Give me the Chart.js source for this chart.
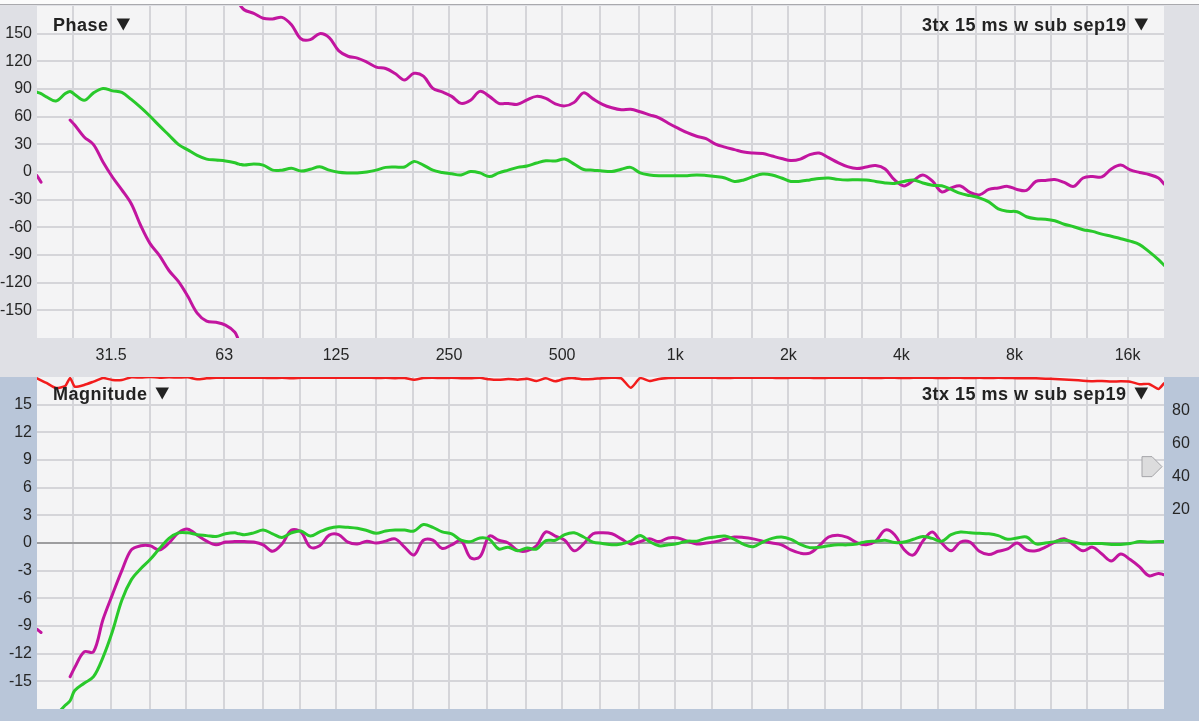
<!DOCTYPE html>
<html>
<head>
<meta charset="utf-8">
<script src="https://cdn.jsdelivr.net/npm/chart.js@4.4.1/dist/chart.umd.min.js"></script>
<style>
  html, body { margin: 0; padding: 0; background: #fbfbfb; }
  #wrap { position: relative; width: 1199px; height: 721px; overflow: hidden; }
  canvas { position: absolute; left: 0; }
  #phaseChart { top: 0; }
  #magChart { top: 374px; }
</style>
</head>
<body>
<div id="wrap">
  <canvas id="phaseChart" width="1199" height="374"></canvas>
  <canvas id="magChart" width="1199" height="347"></canvas>
</div>
<script>
// frequency points (Hz), 1/12 octave plus a few extra points at trace breaks
const freqHz = [
  20, 20.5, 21.19, 22.45, 23.78, 24.5,
  25.2, 26.7, 28.28, 29.97, 31.75, 33.64, 35.64, 37.76, 40, 42.38, 44.9, 47.57,
  50.4, 53.39, 56.57, 59.93, 63.5, 67.27, 68.7, 68.9, 69.1,
  71.27, 75.51, 80, 84.76, 89.8, 95.14, 100.8, 106.8, 113.1, 119.9, 127, 134.5,
  142.5, 151, 160, 169.5, 179.6, 190.3, 201.6, 213.6, 226.3, 239.7, 254, 269.1,
  285.1, 302, 320, 339, 359.2, 380.6, 403.2, 427.2, 452.5, 479.5, 508, 538.2,
  570.2, 604.1, 640, 678.1, 718.4, 761.1, 806.3, 854.3, 905.1, 958.9, 1016, 1076,
  1140, 1208, 1280, 1356, 1437, 1522, 1613, 1709, 1810, 1918, 2032, 2153,
  2281, 2416, 2560, 2712, 2874, 3044, 3225, 3417, 3620, 3836, 4064, 4305,
  4561, 4833, 5120, 5424, 5747, 6089, 6451, 6834, 7241, 7671, 8127, 8611,
  9123, 9665, 10240, 10849, 11494, 12177, 12902, 13669, 14482, 15343, 16255, 17222,
  18246, 19331, 20000
];

// phase (deg)
const phaseGreen = [
  86.6, 85, 81.4, 77, 85, 87.4,
  84, 77.7, 85.8, 90.6, 88, 86.3, 78.7, 70, 60.4, 50, 40, 30,
  24, 18, 14, 13, 12, 10, 8.6, 8.6, 8.5,
  7.5, 8.6, 7.5, 2, 2, 4, 1, 3, 5.7, 2, -0.3, -1,
  -1, 0, 2, 5, 5.4, 5.4, 11.5, 7.5, 2, -0.5, -2, -3.2,
  0.5, -1, -5, -1, 2, 5, 6.5, 9.7, 12.2, 11.9, 14, 8.6,
  2.7, 2, 1, 0.5, 3, 5, -1, -3.2, -4, -4, -4, -4,
  -3.2, -3.8, -4.9, -6.5, -10.2, -8.6, -4.9, -2.2, -3.2, -6.5, -10.2, -10,
  -8.6, -7, -6.5, -8, -8.6, -8.3, -8.6, -10.2, -11.9, -12.4, -10.2, -8.6,
  -11.9, -14.3, -15, -18.9, -23.2, -25.6, -28, -32.4, -40, -42.6, -43.1, -48.5,
  -50.7, -51.2, -52.9, -56.6, -59.3, -62.6, -64.4, -67.4, -69.6, -72.3, -75, -78.7,
  -86.3, -95, -101
];
const phaseMagenta = [
  -4, -11, null, null, null, 56.4,
  51, 38, 29.7, 10.8, -5.4, -19.4, -34.5, -58, -77.7, -90.6, -106.8, -118.7,
  -134.8, -153, -161.8, -163, -166, -173.7, -182, null, 182,
  175.8, 172, 166.7, 166, 167.7, 159.7, 144.5, 143.5, 150, 145.6, 131.6, 125.5,
  123.5, 119.2, 113.8, 112.2, 106.8, 99.8, 107, 103.9, 90.6, 86.8, 82, 74.4,
  77.7, 87.4, 82, 74.4, 74.4, 73.4, 78.2, 82, 79.8, 73.9, 71.7, 75.5,
  85.8, 79.3, 73.4, 69.6, 67.4, 68, 65.3, 62, 58.8, 52.9, 47.5, 42.6,
  38.8, 36.1, 30.2, 27, 24.3, 21.6, 20.5, 20, 17.3, 14.6, 12.4, 14,
  18.9, 20.5, 15.6, 10.2, 5.9, 3.8, 5.4, 7, 3.2, -8.6, -15.1, -9.2,
  -3.2, -9.7, -21.6, -17.3, -15.1, -22.1, -24.8, -18.9, -17.3, -15.6, -18.9, -20,
  -10.2, -9.2, -8.1, -11.3, -15.6, -6.5, -4.9, -5.4, 3.2, 7.5, 2.2, -0.5,
  -2.7, -6.5, -12.9
];

// magnitude (dB)
const magGreen = [
  null, null, null, -18.7, -17.6, -17.1,
  -16, -15.2, -14.5, -12.4, -9.6, -6.2, -4, -2.8, -1.8, -0.6, 0.5, 1.1,
  1.1, 0.9, 0.8, 0.7, 1, 1.1, 1, 1, 1,
  0.9, 1.1, 1.4, 1, 0.6, 1.1, 1.3, 0.75, 1.2, 1.6, 1.75, 1.7,
  1.6, 1.35, 1.05, 1.3, 1.4, 1.4, 1.3, 2, 1.7, 1.2, 1, 0.3,
  0.15, 0.55, 0.4, -0.65, -0.45, -0.85, -0.55, -0.65, 0.25, 0.3, 0.9, 1.1,
  0.65, 0.1, -0.05, -0.2, -0.1, 0.2, 0.8, 0.15, -0.3, -0.2, -0.05, 0.2,
  0.2, 0.5, 0.65, 0.75, 0.4, -0.15, -0.4, 0.1, 0.5, 0.65, 0.4, -0.15,
  -0.5, -0.45, -0.3, -0.2, -0.2, -0.1, 0.15, 0.2, 0.3, 0.05, 0.1, 0.4,
  0.7, 0.5, 0.2, 0.9, 1.2, 1.1, 1.05, 1, 0.8, 0.4, 0.55, 0.65,
  -0.1, 0, 0.15, 0.3, 0.1, -0.1, -0.05, -0.05, -0.15, -0.15, -0.05, 0.15,
  0.1, 0.15, 0.15
];
const magMagenta = [
  -9.35, -9.7, null, null, null, -14.5,
  -13.5, -11.8, -11.8, -8.3, -5.6, -3, -0.75, -0.3, -0.3, -0.75, 0, 1.1,
  1.5, 0.85, 0.2, -0.2, 0.1, 0.15, 0.15, 0.15, 0.15,
  0.15, 0.1, -0.2, -0.9, -0.1, 1.4, 1.2, -0.45, -0.3, 0.85, 0.9, 0.1,
  -0.1, 0.2, 0, 0.2, 0.45, -0.45, -1.3, 0.3, 0.3, -0.6, -0.2, 0.25,
  -1.6, -1.5, 0.75, 0.3, 0, -0.8, -0.85, -0.3, 1.2, 0.75, 0.3, -0.85,
  -0.1, 1, 1.1, 1, 0.45, -0.1, 0.15, 0.45, 0.15, 0.55, 0.55, 0.2,
  -0.1, 0, 0.15, 0.4, 0.65, 0.6, 0.45, 0.2, 0, -0.2, -0.75, -1.1,
  -1.1, -0.3, 0.65, 0.85, 0.6, 0.05, -0.2, 0.2, 1.4, 0.9, -0.7, -1.3,
  0.2, 1.2, 0, -0.85, 0.1, 0.1, -0.9, -1.25, -0.9, -0.65, 0, -0.75,
  -0.85, -0.45, 0.1, 0.45, -0.2, -0.85, -0.45, -1.2, -1.95, -1.2, -1.8, -2.6,
  -3.55, -3.3, -3.45
];

// red trace on the right-hand axis
const coherenceRed = [
  99.2, 98, 96.4, 93.4, 94.6, 99.4,
  94.2, 95.2, 97.2, 99.4, 98.2, 98.2, 99.8, 99.7, 100, 99.6, 99.8, 99.7,
  99.8, 98.6, 99.2, 99.6, 99.5, 99.6, 99.6, 99.6, 99.6,
  99.6, 99.5, 99.5, 99.4, 99.5, 99.3, 99.5, 99.6, 99.5, 99.6, 99.5, 99.6,
  99.5, 99.6, 99.4, 99.5, 99.3, 99.4, 98.4, 99.4, 99.5, 99.4, 99.5, 99.3,
  99.2, 99.5, 98.6, 98.3, 98.8, 98.4, 99, 97.6, 99.2, 97.4, 99, 99.3,
  98.6, 98.8, 99.3, 99.5, 99.2, 93.5, 99.3, 97.6, 98.8, 99.4, 99.5, 99.5,
  99.5, 99.6, 99.5, 99.4, 99.5, 99.5, 99.6, 99.5, 99.5, 99.4, 99.5, 99.5,
  99.5, 99.4, 99.5, 99.5, 99.6, 99.5, 99.5, 99.4, 99.5, 99.5, 99.4, 99.5,
  99.5, 99.5, 99.4, 99.5, 99.5, 99.4, 99.5, 99.4, 99.5, 99.4, 99.3, 99.3,
  99.2, 99, 98.8, 98.5, 98.2, 97.8, 97.5, 97.6, 97.3, 97.4, 97.2, 95.6,
  95.8, 92.8, 96.2
];

// axes
const gridHz = [25, 31.5, 40, 50, 63, 80, 100, 125, 160, 200, 250, 315, 400, 500, 630, 800,
  1000, 1250, 1600, 2000, 2500, 3150, 4000, 5000, 6300, 8000, 10000, 12500, 16000];
const freqLabels = { 31.5: '31.5', 63: '63', 125: '125', 250: '250', 500: '500',
  1000: '1k', 2000: '2k', 4000: '4k', 8000: '8k', 16000: '16k' };
const phaseTicks = [-150, -120, -90, -60, -30, 0, 30, 60, 90, 120, 150];
const dbTicks = [-15, -12, -9, -6, -3, 0, 3, 6, 9, 12, 15];
const rightTicks = [20, 40, 60, 80];

const FONT = '"Liberation Sans", Arial, Helvetica, sans-serif';
const GREEN = '#29c92b';
const MAGENTA = '#c2159f';
const RED = '#f21c1c';
const GRID = '#d5d5d9';
const PLOT_BG = '#f4f4f5';
const TEXT = '#262626';

Chart.defaults.font.family = FONT;

function pts(vals) {
  return freqHz.map((f, i) => ({ x: f, y: vals[i] }));
}

// no extra room for half tick labels at the ends of the axes
function noPad(s) {
  s.paddingTop = 0;
  s.paddingBottom = 0;
  s.paddingLeft = 0;
  s.paddingRight = 0;
}

function drawTitle(ctx, text, x, baseline, alignRight) {
  ctx.font = 'bold 18px ' + FONT;
  ctx.letterSpacing = '0.5px';
  ctx.fillStyle = '#222';
  ctx.textBaseline = 'alphabetic';
  ctx.textAlign = 'left';
  const w = ctx.measureText(text).width;
  const gap = 8, triW = 13.5;
  const left = alignRight ? x - triW - gap - w : x;
  ctx.fillText(text, left, baseline);
  const tx = left + w + gap;
  ctx.beginPath();
  ctx.moveTo(tx, baseline - 12.5);
  ctx.lineTo(tx + triW, baseline - 12.5);
  ctx.lineTo(tx + triW / 2, baseline - 0.5);
  ctx.closePath();
  ctx.fill();
  ctx.letterSpacing = '0px';
}

const panelDecor = {
  id: 'panelDecor',
  beforeDraw(chart, args, o) {
    const { ctx, chartArea: a, width, height } = chart;
    ctx.save();
    ctx.fillStyle = o.side;
    ctx.fillRect(0, 0, width, height);
    if (o.whiteTop) {
      ctx.fillStyle = '#fbfbfb';
      ctx.fillRect(0, 0, width, 5);
      ctx.fillStyle = '#a9a9ad';
      ctx.fillRect(0, 4, width, 1);
    }
    if (o.topBand) {
      ctx.fillStyle = o.topBand;
      ctx.fillRect(0, 0, width, a.top);
    }
    ctx.fillStyle = PLOT_BG;
    ctx.fillRect(a.left, a.top, a.right - a.left, a.bottom - a.top);
    ctx.restore();
  },
  afterDatasetsDraw(chart, args, o) {
    const { ctx, chartArea: a } = chart;
    ctx.save();
    drawTitle(ctx, o.title, 53, o.titleY, false);
    drawTitle(ctx, '3tx 15 ms w sub sep19', 1148, o.titleY, true);
    if (o.marker) {
      const yc = chart.scales.y2.getPixelForValue(46);
      const x0 = a.right - 22;
      ctx.beginPath();
      ctx.moveTo(x0, yc - 10);
      ctx.lineTo(x0 + 10, yc - 10);
      ctx.lineTo(x0 + 20, yc);
      ctx.lineTo(x0 + 10, yc + 10);
      ctx.lineTo(x0, yc + 10);
      ctx.closePath();
      ctx.fillStyle = '#dcdcdd';
      ctx.fill();
      ctx.strokeStyle = '#a4a4a8';
      ctx.lineWidth = 1;
      ctx.stroke();
    }
    ctx.restore();
  }
};

function freqAxis(showLabels, bandHeight) {
  return {
    type: 'logarithmic',
    min: 20,
    max: 20000,
    afterBuildTicks: (s) => { s.ticks = gridHz.map((v) => ({ value: v })); },
    afterFit: (s) => { s.height = bandHeight; noPad(s); },
    grid: { color: GRID, lineWidth: 2, drawTicks: false },
    border: { display: false },
    ticks: {
      display: showLabels,
      autoSkip: false,
      maxRotation: 0,
      padding: 8,
      color: TEXT,
      font: { size: 16 },
      callback: (v) => freqLabels[v] || ''
    }
  };
}

function valueAxis(min, max, ticks, zeroColor) {
  return {
    min: min,
    max: max,
    afterBuildTicks: (s) => { s.ticks = ticks.map((v) => ({ value: v })); },
    afterFit: (s) => { s.width = 37; noPad(s); },
    grid: {
      color: (c) => (zeroColor && c.tick && c.tick.value === 0 ? zeroColor : GRID),
      lineWidth: 2,
      drawTicks: false
    },
    border: { display: false },
    ticks: { padding: 5, color: TEXT, font: { size: 16 } }
  };
}

const commonOptions = {
  responsive: false,
  devicePixelRatio: 1,
  animation: false,
  events: [],
  elements: {
    point: { radius: 0 },
    line: { tension: 0.35, borderCapStyle: 'round', borderJoinStyle: 'round' }
  }
};

new Chart(document.getElementById('phaseChart'), {
  type: 'line',
  data: {
    datasets: [
      { data: pts(phaseGreen), borderColor: GREEN, borderWidth: 3, spanGaps: true },
      { data: pts(phaseMagenta), borderColor: MAGENTA, borderWidth: 3, spanGaps: false }
    ]
  },
  options: {
    ...commonOptions,
    layout: { padding: { top: 6, right: 35, left: 0, bottom: 0 } },
    scales: {
      x: freqAxis(true, 36),
      y: valueAxis(-180, 180, phaseTicks, null)
    },
    plugins: {
      legend: { display: false },
      tooltip: { enabled: false },
      panelDecor: { side: '#dfe0e5', whiteTop: true, title: 'Phase', titleY: 31, marker: false }
    }
  },
  plugins: [panelDecor]
});

new Chart(document.getElementById('magChart'), {
  type: 'line',
  data: {
    datasets: [
      { data: pts(magGreen), borderColor: GREEN, borderWidth: 3, spanGaps: true, yAxisID: 'y' },
      { data: pts(magMagenta), borderColor: MAGENTA, borderWidth: 3, spanGaps: false, yAxisID: 'y' },
      { data: pts(coherenceRed), borderColor: RED, borderWidth: 2.5, tension: 0.2, spanGaps: true, yAxisID: 'y2' }
    ]
  },
  options: {
    ...commonOptions,
    layout: { padding: { top: 3, right: 0, left: 0, bottom: 0 } },
    scales: {
      x: freqAxis(false, 12),
      y: valueAxis(-18, 18, dbTicks, '#9d9d9f'),
      y2: {
        position: 'right',
        min: -100,
        max: 100,
        afterBuildTicks: (s) => { s.ticks = rightTicks.map((v) => ({ value: v })); },
        afterFit: (s) => { s.width = 35; noPad(s); },
        grid: { drawOnChartArea: false, drawTicks: false },
        border: { display: false },
        ticks: { padding: 8, color: TEXT, font: { size: 16 } }
      }
    },
    plugins: {
      legend: { display: false },
      tooltip: { enabled: false },
      panelDecor: { side: '#b9c6d9', topBand: '#dfe0e5', title: 'Magnitude', titleY: 26, marker: true }
    }
  },
  plugins: [panelDecor]
});
</script>
</body>
</html>
